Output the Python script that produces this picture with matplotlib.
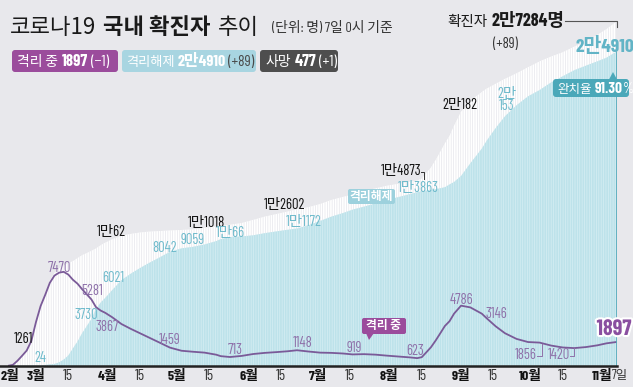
import matplotlib.pyplot as plt
import matplotlib.patheffects as pe
from matplotlib.patches import FancyBboxPatch, Polygon
from matplotlib.transforms import Affine2D
import pandas as pd

plt.rcParams['hatch.linewidth'] = 0.5
KR = ['Barlow Condensed', 'Noto Sans CJK KR']
plt.rcParams['font.family'] = KR

# data (2020, 0시 기준)
dates = ['02-18', '02-20', '02-22', '02-24', '02-26', '02-28',
         '03-01', '03-03', '03-05', '03-07', '03-09', '03-11', '03-13', '03-15',
         '03-17', '03-19', '03-21', '03-23', '03-25', '03-27', '03-29', '03-31',
         '04-03', '04-07', '04-11', '04-15', '04-19', '04-23', '04-28',
         '05-03', '05-08', '05-13', '05-18', '05-20', '05-24', '05-29',
         '06-03', '06-08', '06-13', '06-18', '06-22', '06-27',
         '07-02', '07-07', '07-12', '07-16', '07-21', '07-26', '07-31',
         '08-05', '08-10', '08-13', '08-15', '08-17', '08-19', '08-21', '08-23',
         '08-25', '08-27', '08-29',
         '09-01', '09-05', '09-10', '09-12', '09-16', '09-20', '09-25', '09-30',
         '10-05', '10-10', '10-15', '10-20', '10-25', '10-30',
         '11-03', '11-07']
confirmed = [31, 104, 433, 833, 1261, 2022,
             3526, 4812, 5766, 6767, 7382, 7755, 7979, 8162,
             8320, 8565, 8799, 8961, 9137, 9332, 9583, 9786,
             10062, 10331, 10480, 10591, 10661, 10702, 10752,
             10793, 10840, 10962, 11065, 11110, 11206, 11344,
             11590, 11852, 12051, 12257, 12438, 12602,
             12850, 13181, 13417, 13612, 13879, 14092, 14305,
             14456, 14626, 14714, 14873, 15318, 15761, 16346, 17002,
             17665, 18265, 19077,
             20182, 21010, 21743, 22000, 22391, 22783, 23216, 23699,
             24164, 24548, 24889, 25333, 25775, 26271,
             26732, 27284]
released = [12, 16, 16, 18, 22, 24,
            30, 30, 88, 135, 166, 288, 510, 834,
            1401, 1947, 2612, 3166, 3730, 4528, 5033, 5408,
            6021, 6809, 7319, 7766, 8177, 8562, 9059,
            9333, 9454, 9642, 9904, 10066, 10226, 10275,
            10367, 10536, 10674, 10808, 10908, 11172,
            11508, 11856, 12138, 12400, 12644, 12894, 13184,
            13404, 13642, 13786, 13863, 13920, 13960, 14020, 14100,
            14180, 14400, 14600,
            15072, 16074, 17247, 17845, 18878, 19806, 20678, 21389,
            21888, 22496, 22981, 23463, 23818, 24167,
            24460, 24910]
isolated = [19, 88, 415, 811, 1227, 1984,
            3479, 4750, 5643, 6598, 7170, 7402, 7470, 7253,
            6838, 6527, 6085, 5684, 5281, 4665, 4398, 4216,
            3867, 3330, 2950, 2600, 2250, 1900, 1459,
            1210, 1130, 1060, 898, 781, 713, 800,
            950, 1040, 1100, 1170, 1250, 1148,
            1060, 1040, 990, 919, 940, 900, 820,
            750, 680, 623, 700, 1092, 1495, 2019, 2593,
            3175, 3550, 4160,
            4786, 4650, 4150, 3800, 3146, 2600, 2150, 1900,
            1856, 1620, 1470, 1420, 1500, 1640,
            1800, 1897]

tick_dates = ['02-19', '03-01', '03-15', '04-01', '04-15', '05-01', '05-15', '06-01',
              '06-15', '07-01', '07-15', '08-01', '08-15', '09-01', '09-15', '10-01',
              '10-15', '11-01']
tick_labels = ['2월', '3월', '15', '4월', '15', '5월', '15', '6월', '15', '7월', '15',
               '8월', '15', '9월', '15', '10월', '15', '11월']

BG = '#e8e8ec'
PURPLE_LINE = '#7a5a98'
PURPLE_TXT = '#8f72aa'
BLUE_TXT = '#6fbbcc'
TEAL = '#4aa8b9'
TITLE = ['Noto Sans CJK KR']


def day(d):
    return (pd.Timestamp('2020-' + d) - pd.Timestamp('2020-03-01')).days


x = [day(d) for d in dates]

fig = plt.figure(figsize=(6.33, 3.87), dpi=100, facecolor=BG)
T = Affine2D().scale(1, -1).translate(0, 387)  # pixel coords, origin top-left
R = fig.canvas.get_renderer()

ax = fig.add_axes([8 / 633, 21 / 387, 609 / 633, 366 / 387])
ax.set_facecolor(BG)
ax.fill_between(x, confirmed, color='white', edgecolor='#e6e6eb', hatch='|||||||', lw=0)
ax.fill_between(x, released, facecolor='#bde2ea', edgecolor='#d7eef3', hatch='|||||||', lw=0)
ax.plot(x, isolated, color=PURPLE_LINE, lw=1.3)
ax.plot([x[-1] + 0.5] * 2, [0, released[-1]], color=TEAL, lw=1.2)
ax.set_xlim(-12.1, 251.5)
ax.set_ylim(0, 29030)
for s in ax.spines.values():
    s.set_visible(False)
ax.set_yticks([])
ax.set_xticks([day(d) for d in tick_dates], tick_labels)
ax.tick_params(axis='x', length=0, pad=2)
for lab in ax.get_xticklabels():
    if lab.get_text() == '15':
        lab.set_fontsize(11)
        lab.set_color('#333333')
    else:
        lab.set_fontsize(10)
        lab.set_fontweight('bold')
        lab.set_color('#111111')
fig.add_artist(plt.Line2D([0, 617], [366, 366], transform=T, color='#222222', lw=1.8))
fig.text(612, 376, '7일', transform=T, fontsize=9, va='center', ha='left', color='#333333')


def seq(x0, y0, parts, va='baseline'):
    for s, kw, gap in parts:
        t = fig.text(x0, y0, s, transform=T, va=va, ha='left', **kw)
        x0 += t.get_window_extent(R).width + gap
    return x0


def rbox(x0, y0, x1, y1, color, r=3):
    p = FancyBboxPatch((x0, y0), x1 - x0, y1 - y0,
                       boxstyle='round,pad=0,rounding_size=%d' % r,
                       transform=T, facecolor=color, edgecolor='none')
    fig.add_artist(p)


def tri(pts, color):
    fig.add_artist(Polygon(pts, closed=True, transform=T, facecolor=color, edgecolor='none'))


# title
seq(10, 34, [('코로나19', dict(fontsize=16, color='#1a1a1a', family=TITLE), 7),
             ('국내 확진자', dict(fontsize=16, fontweight='bold', color='#1a1a1a', family=TITLE), 7),
             ('추이', dict(fontsize=16, color='#1a1a1a', family=TITLE), 0)])
fig.text(272, 32, '(단위: 명) 7일 0시 기준', transform=T, fontsize=10, color='#333333')

# badges
rbox(12, 50, 118, 72, '#9b4c9c')
seq(17, 66, [('격리 중', dict(fontsize=10, color='white'), 4),
             ('1897', dict(fontsize=12, color='white', fontweight='bold'), 3),
             ('(−1)', dict(fontsize=11.5, color='white'), 0)])
rbox(122, 50, 256, 72, '#a8d5e1')
seq(126, 66, [('격리해제', dict(fontsize=9.5, color='white'), 3),
              ('2만4910', dict(fontsize=11.5, color='white', fontweight='bold'), 2),
              ('(+89)', dict(fontsize=11, color='#4a4a4a'), 0)])
rbox(260, 50, 338, 72, '#4e4e4e')
seq(265, 66, [('사망', dict(fontsize=10, color='white'), 4),
              ('477', dict(fontsize=12, color='white', fontweight='bold'), 3),
              ('(+1)', dict(fontsize=11.5, color='white'), 0)])

# confirmed total
xe = seq(447, 26, [('확진자', dict(fontsize=10.5, color='#1a1a1a'), 4),
                   ('2만7284명', dict(fontsize=13, fontweight='bold', color='#1a1a1a'), 0)])
fig.add_artist(plt.Line2D([xe + 1, 617, 617], [21, 21, 27], transform=T, color='#555555', lw=0.8))
fig.text(505, 44, '(+89)', transform=T, fontsize=10.5, ha='center', va='center', color='#333333')
fig.text(605, 47, '2만4910', transform=T, fontsize=14, fontweight='bold', ha='center',
         va='center', color='#62b4c6')
rbox(553, 79, 629, 97, TEAL)
tri([(609, 79.5), (617, 79.5), (613, 72)], TEAL)
seq(557, 93, [('완치율', dict(fontsize=9, color='white'), 3),
              ('91.30', dict(fontsize=11, color='white', fontweight='bold'), 0),
              ('%', dict(fontsize=10.5, color='white'), 0)])

# box labels
rbox(348, 189, 395, 204, '#9dd1dd', r=2)
fig.text(371.5, 196.5, '격리해제', transform=T, fontsize=8.5, fontweight='bold', color='white',
         ha='center', va='center')
rbox(362, 318, 406, 334, '#9b4c9c', r=2)
tri([(366, 333), (374, 333), (369, 340)], '#9b4c9c')
fig.text(384, 326, '격리 중', transform=T, fontsize=8.5, fontweight='bold', color='white',
         ha='center', va='center')

# value labels
black_labels = [('1261', 24, 339), ('1만62', 111, 232), ('1만1018', 206, 223),
                ('1만2602', 285, 205), ('1만4873', 401, 171), ('2만182', 460, 105)]
blue_labels = [('24', 40, 358), ('3730', 86, 315), ('6021', 113, 278), ('8042', 165, 248),
               ('9059', 193, 240), ('1만66', 230, 233), ('1만1172', 304, 222),
               ('1만3863', 418, 188), ('2만\n153', 507, 100)]
purple_labels = [('7470', 59, 268), ('5281', 92, 291), ('3867', 107, 327), ('1459', 170, 340),
                 ('713', 235, 350), ('1148', 303, 343), ('919', 354, 348), ('623', 415, 351),
                 ('4786', 461, 300), ('3146', 496, 314), ('1856', 526, 355), ('1420', 559, 355)]
for labels, c in [(black_labels, '#111111'), (blue_labels, BLUE_TXT), (purple_labels, PURPLE_TXT)]:
    for s, lx, ly in labels:
        fig.text(lx, ly, s, transform=T, fontsize=10.5, color=c, ha='center', va='center',
                 linespacing=0.85)

fig.add_artist(plt.Line2D([421, 424, 424], [172, 172, 179], transform=T, color='#333333', lw=0.7))
fig.add_artist(plt.Line2D([537, 542, 542], [356, 356, 344], transform=T, color=PURPLE_TXT, lw=0.7))
fig.add_artist(plt.Line2D([570, 574, 574], [356, 356, 348], transform=T, color=PURPLE_TXT, lw=0.7))
fig.text(614, 329, '1897', transform=T, fontsize=16, fontweight='bold', color='#8a4fa0',
         ha='center', va='center',
         path_effects=[pe.withStroke(linewidth=3, foreground='white')])

fig.savefig('out.png', dpi=100, facecolor=BG)
